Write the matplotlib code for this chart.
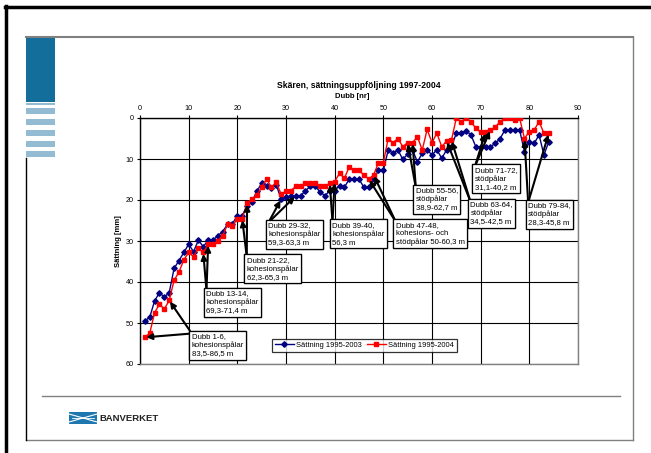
import numpy as np
import matplotlib
matplotlib.use("Agg")
import matplotlib.pyplot as plt
from matplotlib.patches import Rectangle

plt.rcParams['font.family'] = ['Liberation Sans', 'DejaVu Sans']

# Sättning per dubb, mm
dubb = np.arange(1, 85)
sattning_2003 = [49.5, 48.6, 44.6, 42.6, 43.7, 42.6, 36.7, 34.8, 32.8, 30.8,
                 32.6, 29.8, 31.4, 29.8, 29.8, 28.7, 27.7, 25.9, 25.8, 23.8,
                 23.8, 21.5, 20.5, 17.9, 15.9, 16.5, 17.0, 16.3, 19.8, 19.3,
                 19.0, 19.0, 19.0, 17.7, 16.7, 16.7, 18.0, 19.0, 17.7, 17.7,
                 16.5, 16.9, 14.9, 14.9, 14.9, 16.9, 16.9, 14.9, 12.8, 12.8,
                 7.8, 8.6, 7.8, 10.1, 8.8, 7.8, 10.7, 8.6, 7.8, 9.0,
                 7.8, 9.8, 7.8, 7.0, 3.7, 3.7, 3.1, 4.1, 7.0, 7.0,
                 7.0, 7.0, 6.2, 5.0, 2.9, 2.9, 2.9, 2.9, 8.2, 5.8,
                 6.2, 4.1, 9.0, 5.8]
sattning_2004 = [53.5, 52.5, 47.5, 45.4, 46.6, 44.5, 39.6, 37.6, 34.6, 32.8,
                 33.8, 31.8, 32.8, 30.8, 30.8, 29.9, 28.7, 25.9, 26.3, 24.6,
                 24.6, 20.8, 19.8, 18.8, 16.9, 14.9, 16.9, 15.7, 18.6, 17.9,
                 17.7, 16.7, 16.7, 15.8, 15.8, 15.8, 16.7, 16.7, 15.9, 15.5,
                 13.5, 14.7, 11.9, 12.8, 12.8, 13.9, 14.9, 13.9, 10.9, 10.9,
                 5.0, 6.0, 5.0, 7.0, 6.0, 6.0, 4.6, 7.8, 2.8, 6.0,
                 3.7, 7.0, 5.6, 5.4, 0.0, 0.9, 0.0, 0.9, 2.5, 3.5,
                 3.5, 2.9, 2.2, 0.9, 0.0, 0.0, 0.5, 0.0, 5.0, 3.3,
                 2.9, 0.9, 3.7, 3.7]

# Pålinformation för markerade dubbar
etiketter = ["Dubb 1-6,\nkohesionspålar\n83,5-86,5 m",
             "Dubb 13-14,\nkohesionspålar\n69,3-71,4 m",
             "Dubb 21-22,\nkohesionspålar\n62,3-65,3 m",
             "Dubb 29-32,\nkohesionspålar\n59,3-63,3 m",
             "Dubb 39-40,\nkohesionspålar\n56,3 m",
             "Dubb 47-48,\nkohesions- och\nstödpålar 50-60,3 m",
             "Dubb 55-56,\nstödpålar\n38,9-62,7 m",
             "Dubb 63-64,\nstödpålar\n34,5-42,5 m",
             "Dubb 71-72,\nstödpålar\n31,1-40,2 m",
             "Dubb 79-84,\nstödpålar\n28,3-45,8 m"]
pil_dubb = [(1, 6), (13, 14), (21, 22), (29, 32), (39, 40),
            (47, 48), (55, 56), (63, 64), (71, 72), (79, 84)]
pil_serie = ['2004', '2004', '2004', '2003', '2004',
             '2004', '2004', '2004', '2004', '2004']
# textrutornas övre vänstra hörn (dubb, mm)
etikett_pos = [(10.64, 52.56), (13.66, 42.07), (21.94, 33.85), (26.40, 25.49),
               (39.55, 25.32), (52.56, 25.32), (56.67, 16.95), (67.90, 20.37),
               (68.79, 11.90), (79.76, 20.61)]

W, H = 651, 453
fig = plt.figure(figsize=(W / 100, H / 100), dpi=100)

# bakgrund / bildmall i pixelkoordinater
bg = fig.add_axes([0, 0, 1, 1])
bg.set_xlim(0, W)
bg.set_ylim(H, 0)
bg.axis('off')
bg.plot([6, 6], [6, H], color='black', lw=2.5)
bg.plot([5, W], [7, 7], color='black', lw=2.5)
bg.plot([26, 633], [37, 37], color='#808080', lw=1.5)
bg.plot([633, 633], [37, 440], color='#808080', lw=1)
bg.plot([26, 633], [440, 440], color='#808080', lw=1)
bg.plot([26, 26], [158, 440], color='black', lw=1)
bg.add_patch(Rectangle((26, 37), 29, 65, color='#146e9c', lw=0))
for y0, h in [(102.7, 2.6), (108, 6.2), (118.7, 6), (129.7, 6), (140.7, 6.2), (151.4, 6)]:
    bg.add_patch(Rectangle((26, y0), 29, h, color='#93bcd3', lw=0))
bg.plot([42, 620], [396, 396], color='#808080', lw=1)
# Banverket-logga
bg.add_patch(Rectangle((69, 412), 28, 12, color='#1f77b0', lw=0))
bg.plot([69, 83, 97], [414, 418, 414], color='white', lw=0.8)
bg.plot([69, 83, 97], [422, 418, 422], color='white', lw=0.8)
bg.plot([72, 83, 94], [418, 418, 418], color='white', lw=0.6)
bg.text(99, 418.5, "BANVERKET", fontsize=6.8, fontweight='bold', color='#222222',
        va='center', ha='left', fontstretch='condensed')

ax = fig.add_axes([140 / W, 1 - 364 / H, 438 / W, 246 / H])
ax.plot(dubb, sattning_2003, color='#000080', lw=1, marker='D', markersize=2.8,
        label='Sättning 1995-2003', zorder=3)
ax.plot(dubb, sattning_2004, color='#ff0000', lw=1, marker='s', markersize=3.1,
        label='Sättning 1995-2004', zorder=4)

ax.set_xlim(0, 90)
ax.set_ylim(60, 0)
ax.set_xticks(np.arange(0, 91, 10))
ax.set_yticks(np.arange(0, 61, 10))
ax.xaxis.tick_top()
ax.tick_params(labelsize=5.2, length=2.5, width=0.8, pad=2, colors='black')
ax.grid(True, color='black', lw=0.8)
for s in ax.spines.values():
    s.set_color('#808080')
    s.set_linewidth(1)
ax.spines['left'].set_color('black')
ax.spines['top'].set_color('black')

serier = {'2003': sattning_2003, '2004': sattning_2004}
for txt, pos, (d1, d2), serie in zip(etiketter, etikett_pos, pil_dubb, pil_serie):
    for d in (d1, d2):
        ax.annotate(txt, xy=(d, serier[serie][d - 1]), xytext=pos,
                    fontsize=5.6, ha='left', va='top', linespacing=1.2,
                    bbox=dict(boxstyle='square,pad=0.3', fc='white', ec='black', lw=0.9),
                    arrowprops=dict(arrowstyle='-|>', color='black', lw=1.5,
                                    mutation_scale=8.5, relpos=(0, 1),
                                    shrinkA=0, shrinkB=1),
                    zorder=6)

leg = ax.legend(loc='upper left', bbox_to_anchor=((272 - 140) / 438, (364 - 339) / 246),
                ncol=2, fontsize=5.4, frameon=True, fancybox=False, edgecolor='black',
                handlelength=2.6, columnspacing=0.6, handletextpad=0.3,
                borderpad=0.35, borderaxespad=0)
leg.get_frame().set_linewidth(0.9)
leg.set_zorder(7)

fig.text(359 / W, 1 - 86 / H, "Skären, sättningsuppföljning 1997-2004",
         fontsize=6.2, fontweight='bold', ha='center', va='center')
fig.text(352 / W, 1 - 97 / H, "Dubb [nr]", fontsize=5.5, fontweight='bold',
         ha='center', va='center')
fig.text(118 / W, 1 - 241 / H, "Sättning [mm]", fontsize=5.5, fontweight='bold',
         ha='center', va='center', rotation=90)

fig.savefig("out.png", dpi=100)
